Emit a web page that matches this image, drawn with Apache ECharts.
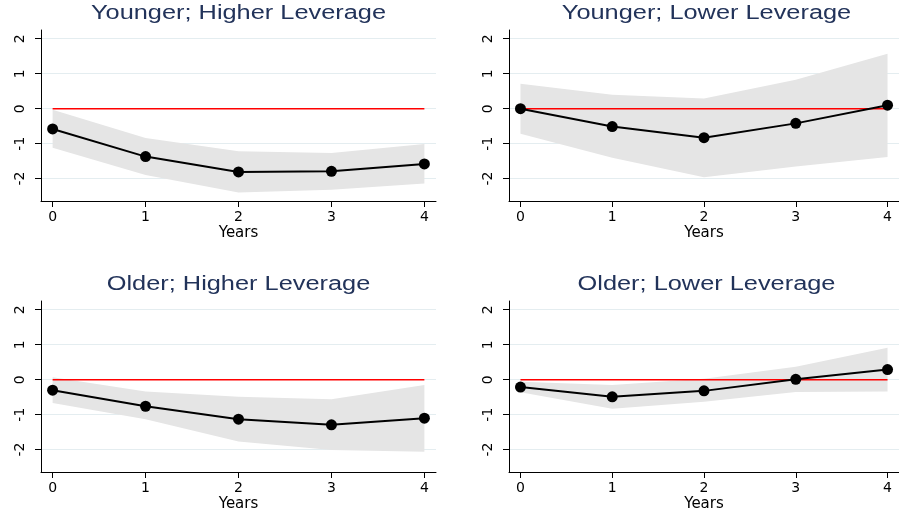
<!DOCTYPE html>
<html>
<head>
<meta charset="utf-8">
<script src="https://cdn.jsdelivr.net/npm/echarts@6/dist/echarts.min.js"></script>
<style>
html,body{margin:0;padding:0;background:#fff;}
#chart{width:899px;height:516px;}
</style>
</head>
<body>
<div id="chart"></div>
<script>
// ---- data ----
const years = [0, 1, 2, 3, 4];
const yTicks = [-2, -1, 0, 1, 2];
const titles = ["Younger; Higher Leverage", "Younger; Lower Leverage", "Older; Higher Leverage", "Older; Lower Leverage"];
const xAxisTitle = "Years";

const estYH = [-0.58, -1.37, -1.81, -1.79, -1.58];
const upYH  = [-0.03, -0.84, -1.22, -1.27, -1.01];
const loYH  = [-1.12, -1.90, -2.40, -2.32, -2.14];

const estYL = [0.00, -0.51, -0.83, -0.42, 0.10];
const upYL  = [0.71, 0.40, 0.29, 0.83, 1.57];
const loYL  = [-0.72, -1.40, -1.96, -1.65, -1.38];

const estOH = [-0.30, -0.76, -1.13, -1.29, -1.10];
const upOH  = [0.07, -0.34, -0.49, -0.56, -0.15];
const loOH  = [-0.67, -1.13, -1.77, -2.01, -2.06];

const estOL = [-0.21, -0.49, -0.32, 0.01, 0.29];
const upOL  = [-0.06, -0.15, 0.03, 0.37, 0.91];
const loOL  = [-0.36, -0.83, -0.63, -0.35, -0.34];

const refLine = [0, 0];
const refX = [0, 4];

const panels = [
  {est: estYH, up: upYH, lo: loYH},
  {est: estYL, up: upYL, lo: loYL},
  {est: estOH, up: upOH, lo: loOH},
  {est: estOL, up: upOL, lo: loOL}
];

// ---- layout ----
const gridPos = [
  {left: 41, top: 30, width: 395, height: 171},
  {left: 509, top: 30, width: 395, height: 171},
  {left: 41, top: 301, width: 395, height: 171},
  {left: 509, top: 301, width: 395, height: 171}
];
const FONT = "Liberation Sans, Arial, Helvetica, sans-serif";
const TITLE_COLOR = "#22335a";

const chart = echarts.init(document.getElementById('chart'), null, {renderer: 'canvas'});

const grid = [], xAxis = [], yAxis = [], series = [], graphic = [];
panels.forEach((p, i) => {
  grid.push(Object.assign({containLabel: false}, gridPos[i]));
  xAxis.push({
    type: 'value', gridIndex: i, min: -0.125, max: 4.125,
    axisLine: {show: true, onZero: false, lineStyle: {color: '#000', width: 1}},
    axisTick: {show: true, length: 6, customValues: years, lineStyle: {color: '#000'}},
    axisLabel: {customValues: years, color: '#000', fontSize: 14, fontFamily: "DejaVu Sans", margin: 9},
    splitLine: {show: false},
    name: xAxisTitle, nameLocation: 'middle', nameGap: 25,
    nameTextStyle: {color: '#000', fontSize: 15, fontFamily: "DejaVu Sans"}
  });
  yAxis.push({
    type: 'value', gridIndex: i, min: -2.64, max: 2.25,
    axisLine: {show: true, onZero: false, lineStyle: {color: '#000', width: 1}},
    axisTick: {show: true, length: 6, customValues: yTicks, lineStyle: {color: '#000'}},
    axisLabel: {customValues: yTicks, rotate: 90, color: '#000', fontSize: 14, fontFamily: "DejaVu Sans", margin: 14},
    splitLine: {show: true, lineStyle: {color: '#e4edf0', width: 1}}
  });
  // confidence band as a polygon built from the axis scales
  series.push({
    type: 'custom', xAxisIndex: i, yAxisIndex: i,
    data: years.map((x, k) => [x, p.lo[k], p.up[k]]),
    encode: {x: 0, y: [1, 2]},
    silent: true, z: 1, clip: true,
    renderItem: (params, api) => {
      if (params.dataIndex !== 0) return null;
      const upperPts = years.map((x, k) => api.coord([x, p.up[k]]));
      const lowerPts = years.map((x, k) => api.coord([x, p.lo[k]])).reverse();
      return {
        type: 'polygon',
        shape: {points: upperPts.concat(lowerPts)},
        style: {fill: '#e5e5e5', stroke: null}
      };
    }
  });
  series.push({
    type: 'line', xAxisIndex: i, yAxisIndex: i,
    data: refX.map((x, k) => [x, refLine[k]]),
    symbol: 'none', lineStyle: {color: '#ff0000', width: 1.5}, z: 2, silent: true
  });
  series.push({
    type: 'line', xAxisIndex: i, yAxisIndex: i,
    data: years.map((x, k) => [x, p.est[k]]),
    symbol: 'circle', symbolSize: 11, itemStyle: {color: '#000'},
    lineStyle: {color: '#000', width: 2}, z: 3, silent: true
  });
  graphic.push({
    type: 'text',
    x: gridPos[i].left + gridPos[i].width / 2,
    y: gridPos[i].top - 16,
    scaleX: 1.3,
    style: {
      text: titles[i], fill: TITLE_COLOR, font: '19.5px ' + FONT,
      align: 'center', verticalAlign: 'middle'
    }
  });
});

chart.setOption({
  backgroundColor: '#ffffff',
  animation: false,
  grid, xAxis, yAxis, series, graphic
});
</script>
</body>
</html>
